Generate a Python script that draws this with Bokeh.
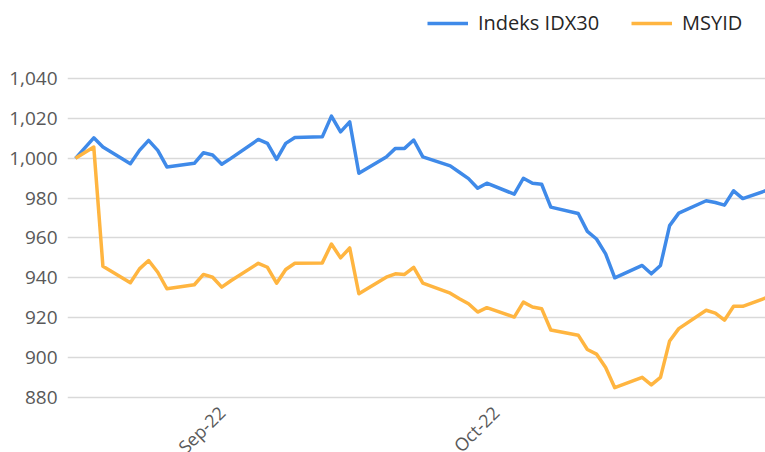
import pandas as pd
from math import pi
from bokeh.plotting import figure
from bokeh.models import (ColumnDataSource, Legend, LegendItem, FixedTicker,
                          NumeralTickFormatter, Range1d)
from bokeh.embed import file_html
from bokeh.resources import INLINE

# ---- data ----
dates = ["2022-08-16", "2022-08-18", "2022-08-19", "2022-08-22", "2022-08-23", "2022-08-24",
         "2022-08-25", "2022-08-26", "2022-08-29", "2022-08-30", "2022-08-31",
         "2022-09-01", "2022-09-02", "2022-09-05", "2022-09-06", "2022-09-07", "2022-09-08",
         "2022-09-09", "2022-09-12", "2022-09-13", "2022-09-14", "2022-09-15", "2022-09-16",
         "2022-09-19", "2022-09-20", "2022-09-21", "2022-09-22", "2022-09-23", "2022-09-26",
         "2022-09-27", "2022-09-28", "2022-09-29", "2022-09-30",
         "2022-10-03", "2022-10-04", "2022-10-05", "2022-10-06", "2022-10-07", "2022-10-10",
         "2022-10-11", "2022-10-12", "2022-10-13", "2022-10-14", "2022-10-17", "2022-10-18",
         "2022-10-19", "2022-10-20", "2022-10-21", "2022-10-24", "2022-10-25", "2022-10-26",
         "2022-10-27", "2022-10-28", "2022-10-31"]

idx30 = [1000.0, 1010.3, 1005.7, 997.3, 1004.0, 1009.0, 1004.0, 995.7, 997.5, 1002.8, 1001.7,
         997.0, 1000.0, 1009.5, 1007.5, 999.5, 1007.5, 1010.5, 1010.8, 1021.2, 1013.3, 1018.3,
         992.5, 1000.7, 1005.0, 1005.0, 1009.2, 1000.7, 996.2, 993.0, 989.8, 985.0, 987.5,
         982.0, 990.0, 987.5, 987.0, 975.5, 972.3, 963.3, 959.5, 952.0, 940.0, 946.2, 942.0,
         946.2, 966.2, 972.5, 978.7, 977.8, 976.5, 983.7, 979.8, 984.5]

msyid = [1000.0, 1005.7, 945.8, 937.5, 944.5, 948.7, 942.8, 934.5, 936.5, 941.7, 940.3,
         935.3, 938.5, 947.3, 945.3, 937.3, 944.2, 947.3, 947.5, 957.0, 950.0, 955.0,
         932.0, 940.3, 942.0, 941.7, 945.3, 937.3, 932.3, 929.5, 927.0, 922.8, 925.0,
         920.3, 927.8, 925.3, 924.5, 913.8, 911.2, 904.0, 901.7, 895.0, 884.8, 890.0, 886.2,
         890.0, 908.3, 914.5, 923.7, 922.3, 918.7, 925.7, 925.7, 930.7]

series_names = ["Indeks IDX30", "MSYID"]
tick_dates = ["2022-09-01", "2022-10-01"]
tick_labels = ["Sep-22", "Oct-22"]
y_ticks = [880, 900, 920, 940, 960, 980, 1000, 1020, 1040]

BLUE = "#3F8AE9"
ORANGE = "#FFB540"

x = pd.to_datetime(dates)
src = ColumnDataSource(dict(x=x, a=idx30, b=msyid))

day = pd.Timedelta(days=1)
x_start = x[0] - 0.875 * day
x_end = x[0] + 75.49 * day   # reference view is cropped just before the last date

# frame covers the whole canvas right of the value labels; the value axis
# runs 880..1040 (gridlines), extra room above/below holds legend and month labels
y_lo = 880 - 27.73
y_hi = 1040 + 39.27

p = figure(width=765, height=452, x_axis_type="datetime",
           x_range=Range1d(x_start, x_end), y_range=Range1d(y_lo, y_hi),
           output_backend="svg", toolbar_location=None,
           min_border_left=67, min_border_right=0, min_border_top=0, min_border_bottom=0)
p.outline_line_color = None
p.background_fill_color = "white"
p.border_fill_color = "white"

r1 = p.line("x", "a", source=src, line_color=BLUE, line_width=3.5, line_join="round")
r2 = p.line("x", "b", source=src, line_color=ORANGE, line_width=3.5, line_join="round")

# axes
p.xgrid.visible = False
p.ygrid.grid_line_color = "#D9D9D9"
p.ygrid.grid_line_width = 1.5

p.yaxis.ticker = FixedTicker(ticks=y_ticks)
p.yaxis.formatter = NumeralTickFormatter(format="0,0")
p.yaxis.axis_line_color = None
p.yaxis.major_tick_line_color = None
p.yaxis.minor_tick_line_color = None
p.yaxis.major_tick_out = 0
p.yaxis.major_tick_in = 0
p.yaxis.major_label_text_font = "Open Sans"
p.yaxis.major_label_text_font_size = "19px"
p.yaxis.major_label_text_color = "#595959"
p.yaxis.major_label_standoff = 10

# x axis: rotated month labels at the tick dates, hanging below the 880 line
p.xaxis.visible = False
tsrc = ColumnDataSource(dict(x=pd.to_datetime(tick_dates), y=[880] * len(tick_dates),
                             t=tick_labels))
p.text("x", "y", text="t", source=tsrc, angle=pi / 4, text_align="right",
       text_baseline="middle", x_offset=0, y_offset=12,
       text_font={"value": "Open Sans"}, text_font_size="18px", text_color="#595959")

legend = Legend(items=[LegendItem(label=series_names[0], renderers=[r1]),
                       LegendItem(label=series_names[1], renderers=[r2])],
                orientation="horizontal", location=(360, 416),
                glyph_width=41, glyph_height=20, label_standoff=10, spacing=32,
                padding=0, margin=0, border_line_color=None, background_fill_alpha=0,
                label_text_font="Open Sans", label_text_font_size="20px",
                label_text_color="#262626")
p.add_layout(legend)

open("out.html", "w").write(file_html(p, INLINE))
